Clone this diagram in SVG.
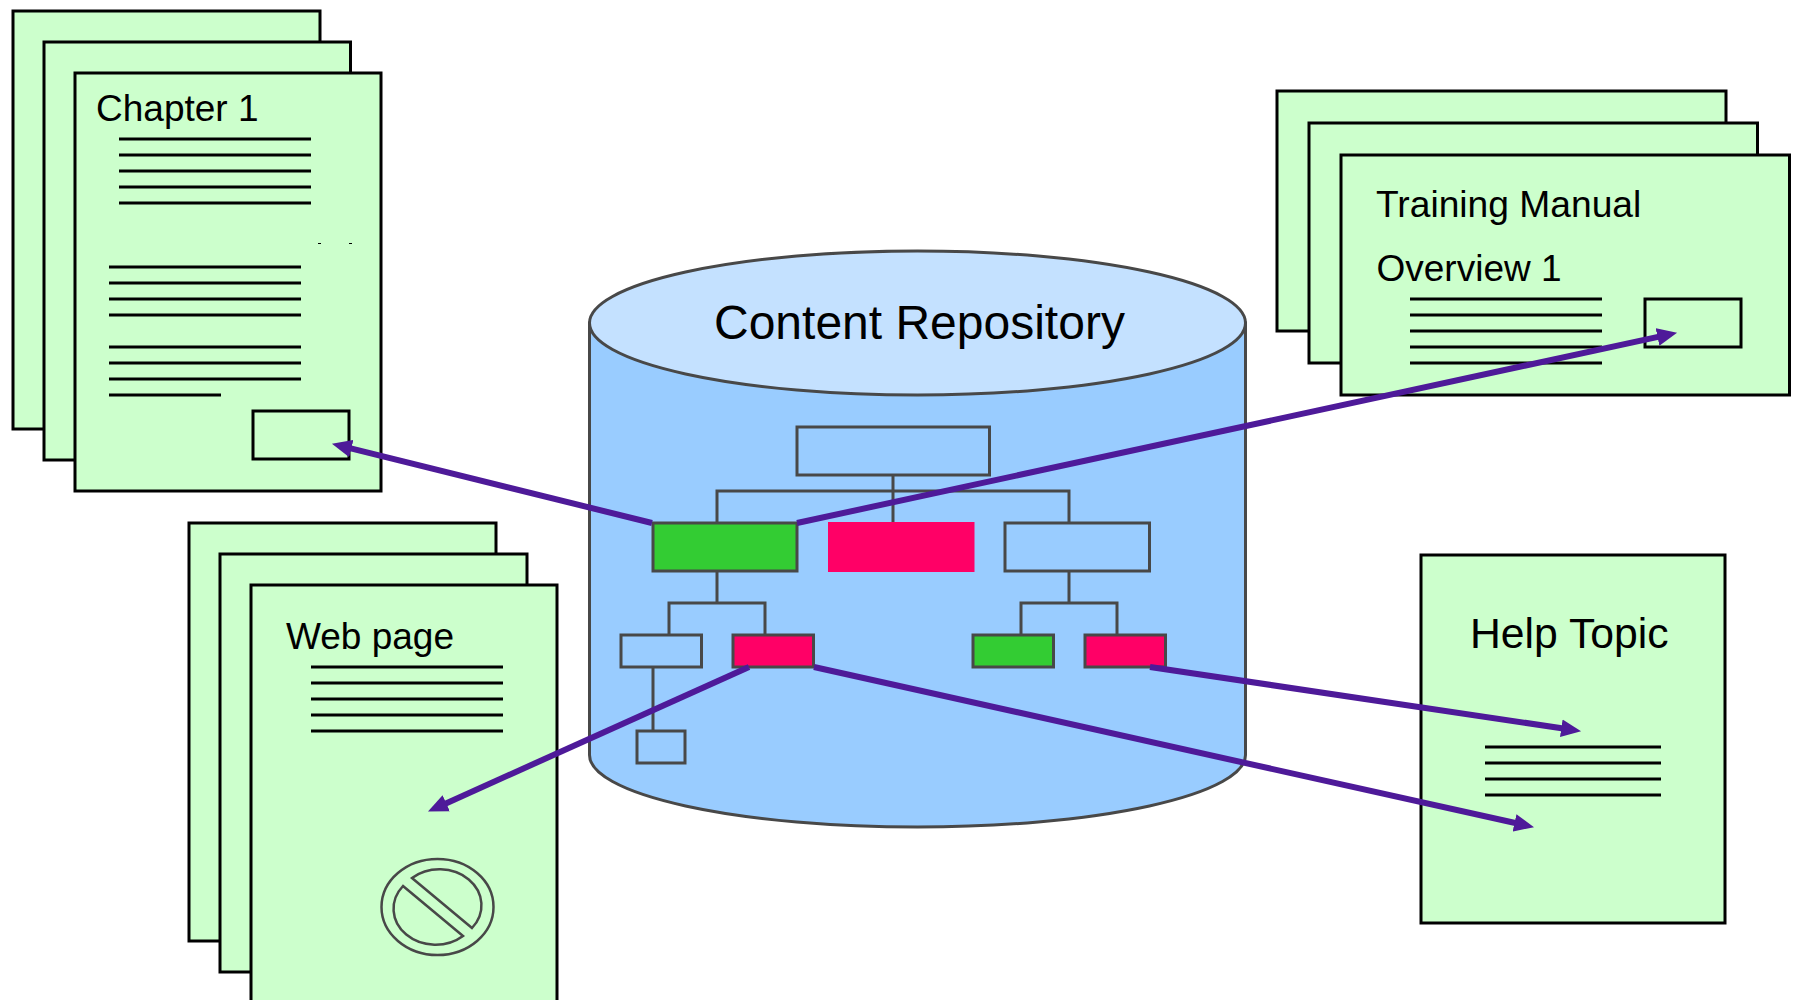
<svg xmlns="http://www.w3.org/2000/svg" width="1798" height="1000" viewBox="0 0 1798 1000">
<style>
text{font-family:"Liberation Sans",Arial,sans-serif;fill:#000}
.pg{fill:#CCFFCC;stroke:#000;stroke-width:3}
.tl{stroke:#000;stroke-width:2.8;fill:none}
.box{fill:none;stroke:#484848;stroke-width:3}
.wire{stroke:#484848;stroke-width:3;fill:none}
.gr{fill:#33CC33;stroke:#484848;stroke-width:3}
.pk{fill:#FF0066;stroke:#484848;stroke-width:3}
.arrow{stroke:#4E1A99;stroke-width:6;fill:none;marker-end:url(#head)}
.t37{font-size:37px}
</style>
<defs>
<marker id="head" markerUnits="userSpaceOnUse" markerWidth="20" markerHeight="18" viewBox="0 0 18 16" refX="8" refY="8" orient="auto"><polygon points="0,0 18,8 0,16" fill="#4E1A99"/></marker>
</defs>
<g id="chapter-stack">
<rect class="pg" x="13" y="11" width="307" height="418"/>
<rect class="pg" x="44" y="42" width="306.500" height="418"/>
<rect class="pg" x="75" y="73" width="306" height="418"/>
<text class="t37" x="96" y="121">Chapter 1</text>
<path class="tl" d="M119 139H311M119 155H311M119 171H311M119 187H311M119 203H311M109 267H301M109 283H301M109 299H301M109 315H301M109 347H301M109 363H301M109 379H301M109 395H221"/>
<path d="M318 243.500h3M349 243.500h3" stroke="#000" stroke-width="1"/>
<rect class="pg" x="253" y="411" width="96" height="48"/>
</g>
<g id="webpage-stack">
<rect class="pg" x="189" y="523" width="307" height="418"/>
<rect class="pg" x="220" y="554" width="307" height="418"/>
<rect class="pg" x="251" y="585" width="306" height="418"/>
<text class="t37" x="286" y="649">Web page</text>
<path class="tl" d="M311 667H503M311 683H503M311 699H503M311 715H503M311 731H503"/>
<g fill="none" stroke="#484848" stroke-width="2.500">
<ellipse cx="437.500" cy="907" rx="56" ry="48"/>
<path d="M412 878A42 36 0 0 1 472 928ZM403 886A42 36 0 0 0 463 936Z"/>
</g>
</g>
<g id="training-stack">
<rect class="pg" x="1277" y="91" width="449" height="240"/>
<rect class="pg" x="1309" y="123" width="448.500" height="240"/>
<rect class="pg" x="1341" y="155" width="448.500" height="240"/>
<text x="1376" y="217" font-size="37.200">Training Manual</text>
<text class="t37" x="1376.500" y="281">Overview 1</text>
<path class="tl" d="M1410 299H1602M1410 315H1602M1410 331H1602M1410 347H1602M1410 363H1602"/>
<rect class="pg" x="1645" y="299" width="96" height="48"/>
</g>
<g id="help-topic">
<rect class="pg" x="1421" y="555" width="304" height="368"/>
<text x="1470" y="648" font-size="42.700">Help Topic</text>
<path class="tl" d="M1485 747H1661M1485 763H1661M1485 779H1661M1485 795H1661"/>
</g>
<g id="repository">
<path d="M589.500 323V755A328 72 0 0 0 1245.500 755V323Z" fill="#99CCFF" stroke="#484848" stroke-width="3"/>
<ellipse cx="917.500" cy="323" rx="328" ry="72" fill="#C4E1FF" stroke="#484848" stroke-width="3"/>
<text x="714" y="339" font-size="48">Content Repository</text>
</g>
<g id="tree-wires">
<path class="wire" d="M893 475V523M717 523V491H1069V523M717 571V603M669 635V603H765V635M1069 571V603M1021 635V603H1117V635M653 667V731"/>
</g>
<g id="tree-root"><rect class="box" x="797" y="427" width="192.500" height="48"/></g>
<g id="tree-green"><rect class="gr" x="653" y="523" width="144" height="48"/></g>
<g id="tree-pink"><rect x="828" y="522" width="146.500" height="50" fill="#FF0066"/></g>
<g id="tree-right"><rect class="box" x="1005" y="523" width="144.500" height="48"/></g>
<g id="tree-leaf-a"><rect class="box" x="621" y="635" width="80.500" height="32"/></g>
<g id="tree-leaf-b"><rect class="pk" x="733" y="635" width="80.500" height="32"/></g>
<g id="tree-leaf-c"><rect class="gr" x="973" y="635" width="80.500" height="32"/></g>
<g id="tree-leaf-d"><rect class="pk" x="1085" y="635" width="80.500" height="32"/></g>
<g id="tree-leaf-e"><rect class="box" x="637" y="731" width="48" height="32"/></g>
<g id="connectors">
<line class="arrow" x1="652" y1="523" x2="342.700" y2="446.400"/>
<line class="arrow" x1="797" y1="523" x2="1666.200" y2="335.100"/>
<line class="arrow" x1="749" y1="667" x2="438.100" y2="806.900"/>
<line class="arrow" x1="814" y1="667" x2="1523.200" y2="824.800"/>
<line class="arrow" x1="1150" y1="667" x2="1570.100" y2="729.500"/>
</g>
</svg>
